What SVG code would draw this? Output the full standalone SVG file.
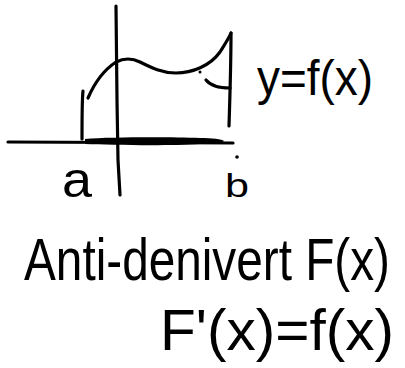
<svg xmlns="http://www.w3.org/2000/svg" width="405" height="368" viewBox="0 0 405 368">
<style>
.s{fill:none;stroke:#000;stroke-width:3.2;stroke-linecap:round;stroke-linejoin:round}
.t{font-family:"Liberation Sans","DejaVu Sans",sans-serif;fill:#000}
</style>
<rect width="405" height="368" fill="#fff"/>
<g id="axes">
<path class="s" d="M8,142 L233,143"/>
<path class="s" d="M116,6 L117,100 L118,160 L120,195"/>
</g>
<g id="area">
<path d="M85,139 C110,137 170,137 200,138 C212,138 222,139 224,141 C222,143 212,144 200,144 C170,146 110,145 85,144 Z" fill="#000"/>
</g>
<g id="curve">
<path class="s" d="M88,98 C94,84 104,70 116,62 C124,58 132,58 140,62 C152,68 162,73 176,73 C192,73 210,66 220,52 C225,44 229,38 231,33"/>
<path class="s" d="M83,91 C82,100 82,120 82,139"/>
<path class="s" d="M231,33 C231,60 230,95 229,126"/>
<path class="s" d="M206,80 C210,85 216,88 230,88"/>
<circle cx="200" cy="72" r="1.5" fill="#000"/>
<circle cx="237" cy="157" r="1.8" fill="#000"/>
</g>
<g id="labels">
<text class="t" x="62" y="197" font-size="50" textLength="30" lengthAdjust="spacingAndGlyphs">a</text>
<text class="t" x="225" y="197" font-size="34" textLength="24" lengthAdjust="spacingAndGlyphs">b</text>
<text class="t" x="257" y="95" font-size="50" textLength="116" lengthAdjust="spacingAndGlyphs">y=f(x)</text>
<text class="t" transform="translate(24,280) scale(1,1.25)" x="0" y="0" font-size="48" textLength="366" lengthAdjust="spacingAndGlyphs">Anti-denivert F(x)</text>
<text class="t" x="160" y="350" font-size="58" textLength="234" lengthAdjust="spacingAndGlyphs">F'(x)=f(x)</text>
</g>
</svg>
